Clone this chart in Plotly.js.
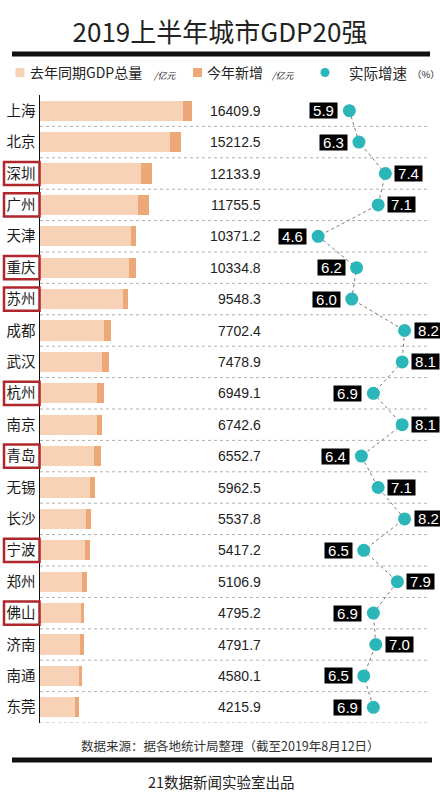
<!DOCTYPE html>
<html>
<head>
<meta charset="utf-8">
<script src="https://cdn.plot.ly/plotly-3.0.1.min.js"></script>
<style>
  body { margin: 0; background: #fff; }
  #graph { width: 440px; height: 800px; }
</style>
</head>
<body>
<div id="graph"></div>
<script>
// 2019 H1 city GDP top 20
var cities = ['上海', '北京', '深圳', '广州', '天津', '重庆', '苏州', '成都', '武汉', '杭州',
  '南京', '青岛', '无锡', '长沙', '宁波', '郑州', '佛山', '济南', '南通', '东莞'];
// GDP total, 亿元
var gdp = [16409.9, 15212.5, 12133.9, 11755.5, 10371.2, 10334.8, 9548.3, 7702.4, 7478.9, 6949.1,
  6742.6, 6552.7, 5962.5, 5537.8, 5417.2, 5106.9, 4795.2, 4791.7, 4580.1, 4215.9];
// this year's increase (dark part of the bar)
var increase = [900, 1160, 1190, 1190, 540, 680, 620, 830, 760, 760,
  570, 680, 510, 570, 570, 540, 400, 510, 400, 460];
// real growth, %
var growth = [5.9, 6.3, 7.4, 7.1, 4.6, 6.2, 6.0, 8.2, 8.1, 6.9,
  8.1, 6.4, 7.1, 8.2, 6.5, 7.9, 6.9, 7.0, 6.5, 6.9];
// cities with a red frame
var boxed = ['深圳', '广州', '重庆', '苏州', '杭州', '青岛', '宁波', '佛山'];

var lastYear = gdp.map(function(v, i) { return v - increase[i]; });

// pixel -> paper helpers (plot area: x 40..430, y 95..723)
function PX(x) { return (x - 40) / 390; }
function PY(y) { return (723 - y) / 628; }

var cjk = 'Noto Sans CJK SC, sans-serif';
var num = 'Liberation Sans, Arial, sans-serif';

var traceLast = {
  type: 'bar',
  orientation: 'h',
  y: cities,
  x: lastYear,
  marker: { color: '#f8d2b6' },
  hoverinfo: 'none',
  showlegend: false
};

var traceNew = {
  type: 'bar',
  orientation: 'h',
  y: cities,
  x: increase,
  marker: { color: '#eda877' },
  hoverinfo: 'none',
  showlegend: false
};

var traceGrowth = {
  type: 'scatter',
  mode: 'lines+markers',
  x: growth,
  y: cities,
  xaxis: 'x2',
  line: { color: '#777', width: 1, dash: 'dot' },
  marker: { size: 13, color: '#2bb6b9' },
  hoverinfo: 'none',
  showlegend: false
};

var annotations = [];
var shapes = [];

cities.forEach(function(c, i) {
  // GDP value
  annotations.push({
    xref: 'paper', yref: 'y', x: PX(263), y: c,
    xanchor: 'right', yanchor: 'middle', showarrow: false,
    text: gdp[i].toFixed(1),
    font: { family: num, size: 14, color: '#222' }
  });
  // growth label box
  var right = growth[i] >= 7;
  annotations.push({
    xref: 'x2', yref: 'y', x: growth[i], y: c,
    xanchor: right ? 'left' : 'right', yanchor: 'middle',
    xshift: right ? 9 : -11, showarrow: false,
    text: growth[i].toFixed(1),
    bgcolor: '#000', borderpad: 0, width: 27, height: 15,
    font: { family: num, size: 15, color: '#fff' }
  });
  // dotted separator
  shapes.push({
    type: 'line', xref: 'paper', yref: 'y', x0: 0, x1: 1, y0: i + 0.5, y1: i + 0.5,
    line: { color: '#b0b0b0', width: 1, dash: 'dot' }, layer: 'below'
  });
  // red frames
  if (boxed.indexOf(c) >= 0) {
    var cy = 1 - (i + 0.5) / 20;
    shapes.push({
      type: 'rect', xref: 'paper', yref: 'paper',
      x0: PX(4), x1: PX(39.5), y0: cy - 0.0185, y1: cy + 0.0185,
      line: { color: '#b0262b', width: 2.5 }, layer: 'above'
    });
  }
});

// black rules
shapes.push({
  type: 'rect', xref: 'paper', yref: 'paper', x0: PX(12), x1: PX(430), y0: PY(56.5), y1: PY(51.5),
  fillcolor: '#111', line: { width: 0 }
});
shapes.push({
  type: 'rect', xref: 'paper', yref: 'paper', x0: PX(12), x1: PX(432), y0: PY(762.5), y1: PY(757.5),
  fillcolor: '#111', line: { width: 0 }
});

// legend
shapes.push({
  type: 'rect', xref: 'paper', yref: 'paper', x0: PX(15.5), x1: PX(24.5), y0: PY(77), y1: PY(68),
  fillcolor: '#f8d2b6', line: { width: 0 }
});
shapes.push({
  type: 'rect', xref: 'paper', yref: 'paper', x0: PX(193), x1: PX(202), y0: PY(77), y1: PY(68),
  fillcolor: '#eda877', line: { width: 0 }
});
shapes.push({
  type: 'circle', xref: 'paper', yref: 'paper', x0: PX(320.5), x1: PX(329.5), y0: PY(77), y1: PY(68),
  fillcolor: '#2bb6b9', line: { width: 0 }
});

function legendText(x, y, text, size, family) {
  annotations.push({
    xref: 'paper', yref: 'paper', x: PX(x), y: PY(y),
    xanchor: 'left', yanchor: 'middle', showarrow: false, text: text,
    font: { family: family || cjk, size: size, color: '#222' }
  });
}
legendText(28, 72.5, '去年同期GDP总量', 14);
legendText(151, 75, '<i>/亿元</i>', 9);
legendText(205, 72.5, '今年新增', 14);
legendText(269, 75, '<i>/亿元</i>', 9);
legendText(347, 72.5, '实际增速', 14.5);
legendText(410, 73.5, '（%）', 9.5);

// footer texts
annotations.push({
  xref: 'paper', yref: 'paper', x: PX(230), y: PY(745),
  xanchor: 'center', yanchor: 'middle', showarrow: false,
  text: '数据来源：据各地统计局整理（截至2019年8月12日）',
  font: { family: cjk, size: 12.5, color: '#333' }
});
annotations.push({
  xref: 'paper', yref: 'paper', x: PX(221), y: PY(781),
  xanchor: 'center', yanchor: 'middle', showarrow: false,
  text: '21数据新闻实验室出品',
  font: { family: cjk, size: 14.5, color: '#222' }
});

var layout = {
  width: 440,
  height: 800,
  margin: { l: 40, r: 10, t: 95, b: 77 },
  paper_bgcolor: '#fff',
  plot_bgcolor: 'rgba(0,0,0,0)',
  title: {
    text: '2019上半年城市GDP20强',
    x: 0.5, xref: 'container', xanchor: 'center',
    y: 1 - 33 / 800, yref: 'container', yanchor: 'middle',
    font: { family: cjk, size: 26, color: '#222' }
  },
  barmode: 'stack',
  bargap: 0.36,
  showlegend: false,
  xaxis: {
    range: [0, 42160],
    visible: false,
    fixedrange: true
  },
  xaxis2: {
    overlaying: 'x',
    range: [-6.99, 9.26],
    visible: false,
    fixedrange: true
  },
  yaxis: {
    type: 'category',
    range: [19.5, -0.5],
    showline: true,
    linecolor: '#111',
    linewidth: 1.5,
    showgrid: false,
    zeroline: false,
    ticks: '',
    ticklabelstandoff: 0,
    tickfont: { family: cjk, size: 14.5, color: '#1a1a1a' },
    fixedrange: true
  },
  shapes: shapes,
  annotations: annotations
};

Plotly.newPlot('graph', [traceLast, traceNew, traceGrowth], layout, { staticPlot: true, displayModeBar: false });
</script>
</body>
</html>
